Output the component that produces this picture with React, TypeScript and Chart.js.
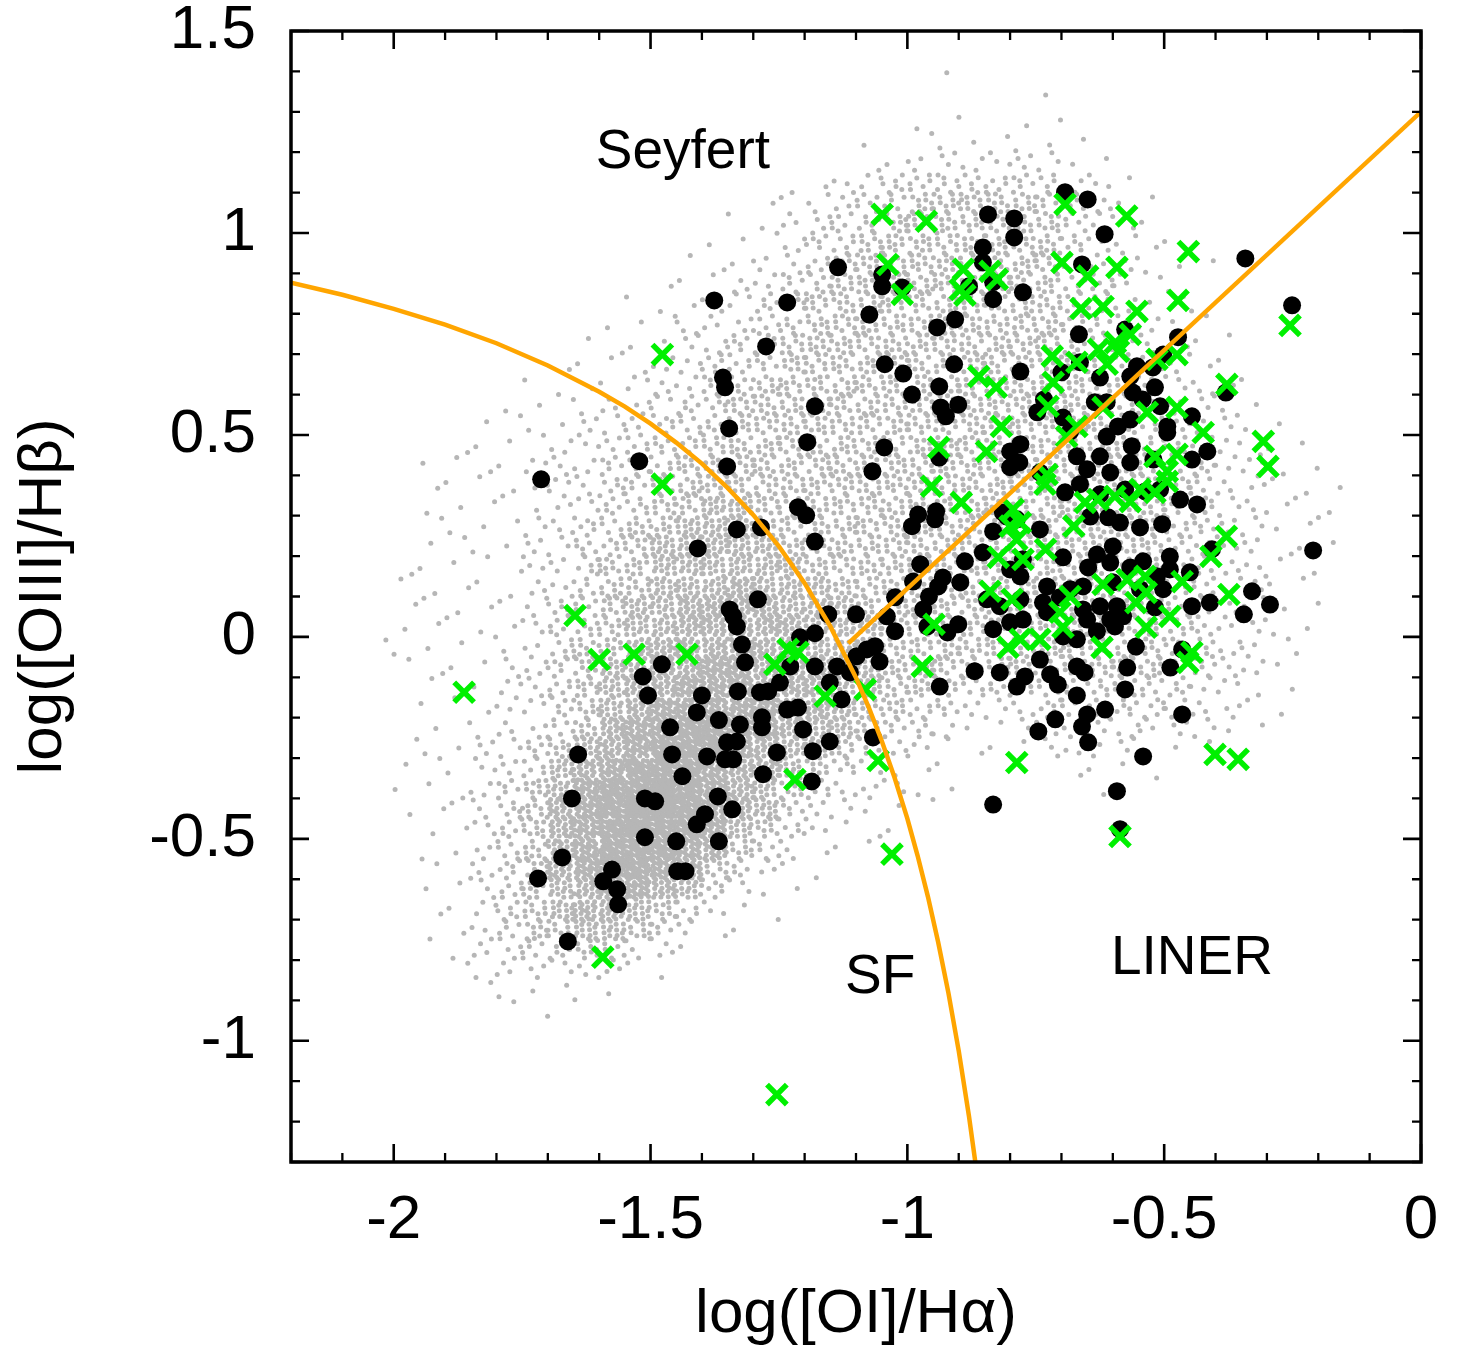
import React, { useEffect, useRef } from "react";
import { Chart, registerables } from "chart.js";

Chart.register(...registerables);

const FONT = "'Liberation Sans', Arial, Helvetica, sans-serif";

// Axes
const X_MIN = -2.2;
const X_MAX = 0;
const Y_MIN = -1.3;
const Y_MAX = 1.5;
const X_TICKS = [-2, -1.5, -1, -0.5, 0];
const X_TICK_LABELS = ["-2", "-1.5", "-1", "-0.5", "0"];
const Y_TICKS = [-1, -0.5, 0, 0.5, 1, 1.5];
const Y_TICK_LABELS = ["-1", "-0.5", "0", "0.5", "1", "1.5"];
const MINOR_STEP = 0.1;
const X_TITLE = "log([OI]/Hα)";
const Y_TITLE = "log([OIII]/Hβ)";

// Region labels
const REGION_LABELS = ["Seyfert", "LINER", "SF"];
const REGION_X = [-1.437, -0.446, -1.053];
const REGION_Y = [1.198, -0.797, -0.844];

// Kewley et al. 2001 maximum-starburst curve (sampled)
const KEW01_X = [-2.2, -2.1, -2.0, -1.9, -1.8, -1.7, -1.6, -1.55, -1.5, -1.45, -1.4, -1.35, -1.3, -1.25, -1.2, -1.15, -1.1, -1.075, -1.05, -1.025, -1.0, -0.98, -0.96, -0.94, -0.92, -0.9, -0.88, -0.865];
const KEW01_Y = [0.877, 0.847, 0.812, 0.773, 0.727, 0.672, 0.607, 0.570, 0.528, 0.481, 0.429, 0.369, 0.302, 0.224, 0.133, 0.026, -0.101, -0.175, -0.257, -0.348, -0.45, -0.542, -0.643, -0.756, -0.882, -1.025, -1.187, -1.325];

// Seyfert / LINER dividing line
const SEYLIN_X = [-1.115, 0];
const SEYLIN_Y = [-0.016, 1.3];

// Black filled circles [log OI/Ha, log OIII/Hb]
const BLACK_POINTS = [
  [-1.713, 0.39], [-1.522, 0.435], [-1.376, 0.833], [-1.359, 0.642], [-1.355, 0.618], [-1.347, 0.516], [-1.351, 0.422],
  [-0.843, 1.046], [-0.792, 1.036], [-0.792, 0.989], [-0.853, 0.964], [-0.853, 0.927], [-1.135, 0.915], [-1.049, 0.897], [-1.049, 0.868], [-1.01, 0.865], [-0.88, 0.868], [-0.833, 0.878], [-0.833, 0.836], [-0.775, 0.853], [-1.234, 0.828], [-1.074, 0.798], [-0.907, 0.786], [-0.942, 0.766], [-1.275, 0.719], [-1.044, 0.675], [-1.008, 0.652], [-0.909, 0.675], [-0.78, 0.657], [-0.991, 0.6], [-0.938, 0.62], [-0.901, 0.575], [-0.935, 0.568], [-0.925, 0.546], [-1.18, 0.571], [-1.195, 0.482], [-1.045, 0.469], [-1.068, 0.41], [-0.938, 0.444], [-0.8, 0.459], [-0.78, 0.477], [-0.782, 0.432], [-0.8, 0.42],
  [-0.693, 1.101], [-0.649, 1.083], [-0.616, 0.997], [-0.66, 0.922], [-0.342, 0.937], [-0.251, 0.821], [-0.666, 0.749], [-0.576, 0.761], [-0.473, 0.742], [-0.7, 0.655], [-0.625, 0.642], [-0.566, 0.645], [-0.553, 0.67], [-0.522, 0.667], [-0.502, 0.699], [-0.664, 0.68], [-0.38, 0.605], [-0.734, 0.588], [-0.747, 0.556], [-0.697, 0.543], [-0.683, 0.509], [-0.635, 0.581], [-0.612, 0.581], [-0.561, 0.605], [-0.518, 0.618], [-0.542, 0.588], [-0.508, 0.571], [-0.446, 0.546], [-0.59, 0.521], [-0.566, 0.538], [-0.494, 0.521], [-0.612, 0.496], [-0.563, 0.472], [-0.494, 0.506], [-0.416, 0.459], [-0.446, 0.439], [-0.67, 0.447], [-0.625, 0.447], [-0.566, 0.432], [-0.521, 0.439], [-0.65, 0.415], [-0.605, 0.407], [-0.742, 0.407],
  [-1.408, 0.219], [-1.346, 0.068], [-1.478, -0.068], [-1.515, -0.098], [-1.505, -0.145], [-1.4, -0.145], [-1.41, -0.187], [-1.367, -0.206], [-1.462, -0.224], [-1.641, -0.291], [-1.458, -0.291], [-1.39, -0.296], [-1.438, -0.345], [-1.351, -0.261], [-1.355, -0.303],
  [-1.213, 0.321], [-1.197, 0.301], [-1.332, 0.266], [-1.285, 0.271], [-1.18, 0.236], [-0.979, 0.303], [-0.944, 0.311], [-0.946, 0.291], [-0.991, 0.274], [-0.975, 0.18], [-0.989, 0.137], [-0.931, 0.147], [-0.94, 0.125], [-0.897, 0.135], [-0.888, 0.187], [-0.853, 0.209], [-0.833, 0.261], [-0.806, 0.298], [-0.958, 0.1], [-0.969, 0.068], [-0.961, 0.026], [-0.922, 0.011], [-0.901, 0.031], [-1.024, 0.098], [-1.04, 0.051], [-1.024, 0.014], [-1.1, 0.056], [-1.154, 0.056], [-1.291, 0.093], [-1.339, 0.051], [-1.332, 0.026], [-1.322, -0.019], [-1.316, -0.063], [-1.33, -0.135], [-1.287, -0.137], [-1.271, -0.135], [-1.248, -0.113], [-1.209, -0.001], [-1.18, 0.009], [-1.18, -0.073], [-1.228, -0.073], [-1.137, -0.073], [-1.151, -0.113], [-1.128, -0.155], [-1.112, -0.088], [-1.099, -0.048], [-1.079, -0.031], [-1.063, -0.023], [-1.054, -0.061], [-1.234, -0.18], [-1.213, -0.175], [-1.203, -0.229], [-1.151, -0.259], [-1.184, -0.283], [-1.254, -0.286], [-1.326, -0.217], [-1.283, -0.199], [-1.283, -0.224], [-1.332, -0.259], [-1.339, -0.303], [-1.281, -0.34], [-1.186, -0.358], [-1.067, -0.249], [-0.937, -0.123], [-0.869, -0.085], [-0.82, -0.088], [-0.787, -0.123], [-0.771, -0.098], [-0.833, 0.019], [-0.8, 0.036], [-0.845, 0.093], [-0.78, 0.093], [-0.82, 0.076], [-0.775, 0.043], [-0.8, 0.167], [-0.78, 0.15], [-0.775, 0.192], [-0.814, 0.308], [-0.787, 0.291],
  [-0.436, 0.328], [-0.21, 0.214], [-0.407, 0.217], [-0.329, 0.113], [-0.294, 0.08], [-0.345, 0.056], [-0.411, 0.085], [-0.446, 0.076], [-0.465, -0.031], [-0.488, -0.076], [-0.555, -0.024], [-0.572, -0.076], [-0.576, -0.13], [-0.615, -0.18], [-0.65, -0.192], [-0.66, -0.222], [-0.648, -0.261], [-0.712, -0.204], [-0.745, -0.234], [-0.67, -0.145], [-0.707, -0.118], [-0.722, -0.093], [-0.742, -0.056], [-0.655, -0.088], [-0.67, -0.073], [-0.67, -0.006], [-0.697, 0.001], [-0.728, 0.061], [-0.736, 0.085], [-0.728, 0.125], [-0.697, 0.197], [-0.742, 0.266], [-0.693, 0.358], [-0.664, 0.378], [-0.508, 0.365], [-0.644, 0.298], [-0.609, 0.296], [-0.586, 0.283], [-0.547, 0.271], [-0.504, 0.279], [-0.6, 0.224], [-0.631, 0.204], [-0.648, 0.172], [-0.605, 0.184], [-0.566, 0.172], [-0.541, 0.187], [-0.489, 0.199], [-0.489, 0.167], [-0.45, 0.16], [-0.514, 0.15], [-0.502, 0.118], [-0.547, 0.118], [-0.6, 0.135], [-0.658, 0.125], [-0.683, 0.118], [-0.703, 0.098], [-0.658, 0.068], [-0.625, 0.076], [-0.592, 0.076], [-0.58, 0.051], [-0.605, 0.043], [-0.65, 0.043], [-0.631, 0.014], [-0.518, 0.073], [-0.596, 0.026], [-0.541, -0.296], [-0.465, -0.192], [-0.625, 0.353], [-0.576, 0.365], [-0.537, 0.36], [-0.469, 0.34],
  [-1.653, -0.4], [-1.511, -0.4], [-1.491, -0.407], [-1.369, -0.395], [-1.394, -0.439], [-1.41, -0.464], [-1.341, -0.427], [-1.511, -0.496], [-1.45, -0.506], [-1.367, -0.506], [-1.672, -0.546], [-1.719, -0.598], [-1.575, -0.576], [-1.592, -0.605], [-1.565, -0.625], [-1.563, -0.662], [-1.448, -0.58], [-1.432, -0.58], [-1.661, -0.754],
  [-0.833, -0.415], [-0.592, -0.382], [-0.586, -0.476],
];

// Green crosses
const GREEN_POINTS = [
  [-1.863, -0.137], [-1.647, 0.053], [-1.6, -0.056], [-1.532, -0.043], [-1.429, -0.043], [-1.477, 0.699], [-1.477, 0.378], [-1.049, 1.046], [-0.963, 1.029], [-1.038, 0.922], [-1.01, 0.848], [-0.891, 0.91], [-0.897, 0.86], [-0.888, 0.846], [-0.839, 0.905], [-0.825, 0.885], [-0.861, 0.645], [-0.827, 0.618], [-0.817, 0.521], [-0.846, 0.459], [-0.939, 0.469], [-0.953, 0.373],
  [-0.693, 1.071], [-0.573, 1.042], [-0.453, 0.954], [-0.699, 0.927], [-0.649, 0.893], [-0.592, 0.915], [-0.473, 0.833], [-0.662, 0.813], [-0.619, 0.818], [-0.553, 0.806], [-0.255, 0.771], [-0.566, 0.749], [-0.595, 0.729], [-0.628, 0.712], [-0.589, 0.707], [-0.611, 0.675], [-0.718, 0.695], [-0.67, 0.68], [-0.514, 0.687], [-0.475, 0.699], [-0.716, 0.63], [-0.378, 0.625], [-0.726, 0.571], [-0.619, 0.568], [-0.533, 0.556], [-0.475, 0.568], [-0.67, 0.521], [-0.69, 0.496], [-0.424, 0.506], [-0.307, 0.484], [-0.298, 0.422], [-0.518, 0.447], [-0.475, 0.452], [-0.494, 0.41], [-0.728, 0.402],
  [-0.895, 0.333], [-0.794, 0.316], [-0.8, 0.274], [-0.78, 0.283], [-0.787, 0.241], [-0.775, 0.192], [-0.823, 0.197], [-0.839, 0.113], [-0.796, 0.093], [-0.948, 0.031], [-0.971, -0.073], [-0.804, -0.026], [-0.78, -0.006], [-1.232, -0.031], [-1.213, -0.038], [-1.258, -0.068], [-1.16, -0.147], [-1.082, -0.13], [-1.057, -0.306], [-0.787, -0.311], [-1.219, -0.353],
  [-0.732, 0.378], [-0.654, 0.333], [-0.629, 0.34], [-0.596, 0.348], [-0.566, 0.335], [-0.547, 0.365], [-0.518, 0.358], [-0.494, 0.385], [-0.676, 0.274], [-0.731, 0.217], [-0.379, 0.249], [-0.409, 0.199], [-0.465, 0.137], [-0.537, 0.15], [-0.572, 0.142], [-0.619, 0.13], [-0.683, 0.1], [-0.535, 0.11], [-0.555, 0.085], [-0.374, 0.105], [-0.703, 0.061], [-0.697, 0.024], [-0.742, -0.006], [-0.535, 0.024], [-0.489, 0.051], [-0.621, -0.026], [-0.446, -0.038], [-0.454, -0.063], [-0.401, -0.291], [-0.356, -0.303],
  [-1.593, -0.793], [-1.03, -0.538], [-1.254, -1.133], [-0.586, -0.494],
];

// Background galaxy sample: density read per 0.05 x 0.05 cell.
// Each row: [first column index, density digits 0-9], rows from y=1.45 downward, columns from x=-2.2.
const GRAY_CELL = 0.05;
const GRAY_X0 = -2.2;
const GRAY_Y_TOP = 1.45;
const GRAY_LEVEL_COUNTS = [0, 1, 3, 6, 10, 16, 23, 32, 42, 54];
const GRAY_ROWS: [number, string][] = [
  [0, ""],
  [25, "1"],
  [29, "1"],
  [24, "101011"],
  [22, "101111111"],
  [22, "1122222211"],
  [19, "11223333333221"],
  [18, "1122334444433211"],
  [17, "11223344444443211"],
  [16, "1112334444444432211"],
  [15, "111223444444444322111"],
  [14, "111223344444444433211"],
  [13, "11122334444444444332111"],
  [12, "111222334444444444332211"],
  [11, "11112233444444444443322111"],
  [10, "111122333444444444444332211"],
  [9, "11112223344444444444443332211"],
  [8, "111122233444444444444444332211"],
  [7, "11112223334444444444444444332211"],
  [6, "1111222333444444444444444443322111"],
  [5, "11112223334444444444444444444332211"],
  [5, "111122233444444444444444444443322111"],
  [5, "111112233445544444444444444443322111"],
  [5, "111122334455544444444444444443322111"],
  [5, "111122334555554444444444444443322111"],
  [4, "111112234455555544444444444444332211"],
  [4, "111112234455565554444444444444332211"],
  [4, "111112334556666555444444444444332211"],
  [4, "111112334556666655544444444444332211"],
  [3, "1111112344566666655544444444444332211"],
  [4, "11112234556677666554444444444433221"],
  [5, "1112234566777666554433333333332211"],
  [5, "1112234567777766544332223333322211"],
  [5, "111223467788776554332112222222211"],
  [4, "111223456788876554322111122221111"],
  [4, "111223567888766543211100001111"],
  [4, "1112345788987654322211000001"],
  [4, "111234678998765322111"],
  [5, "1123467898875432111"],
  [5, "112346788876432111"],
  [5, "1123467887643211"],
  [5, "112345677653211"],
  [5, "11234566543211"],
  [5, "1123445543211"],
  [6, "1223343221"],
  [6, "112222211"],
  [7, "111111"],
  [8, "11"],
];

const GRAY_COLOR = "#b6b6b6";
const BLACK_COLOR = "#000000";
const GREEN_COLOR = "#00f000";
const ORANGE_COLOR = "#ffa500";

function frac(v: number) {
  return v - Math.floor(v);
}

function buildGrayPoints() {
  const pts: { x: number; y: number }[] = [];
  GRAY_ROWS.forEach(([c0, digits], r) => {
    const yTop = GRAY_Y_TOP - GRAY_CELL * r;
    for (let k = 0; k < digits.length; k++) {
      const level = Number(digits[k]);
      const n = GRAY_LEVEL_COUNTS[level] || 0;
      const c = c0 + k;
      const x0 = GRAY_X0 + GRAY_CELL * c;
      const s1 = frac(c * 0.3183 + r * 0.5772);
      const s2 = frac(c * 0.7131 + r * 0.2417);
      for (let i = 0; i < n; i++) {
        const fx = frac(s1 + i * 0.7548776662);
        const fy = frac(s2 + i * 0.569840291);
        pts.push({ x: x0 + GRAY_CELL * fx, y: yTop - GRAY_CELL * fy });
      }
    }
  });
  return pts;
}

const framePlugin = {
  id: "gnuplotFrame",
  afterDatasetsDraw(chart: any) {
    const { ctx, chartArea: a } = chart;
    const xs = chart.scales.x;
    const ys = chart.scales.y;
    ctx.save();
    ctx.strokeStyle = "#000";
    ctx.lineCap = "butt";
    const MAJOR = 18;
    const MINOR = 9;
    const isMajor = (v: number, list: number[]) => list.some((t) => Math.abs(t - v) < 1e-6);
    const nx = Math.round((X_MAX - X_MIN) / MINOR_STEP);
    for (let i = 0; i <= nx; i++) {
      const v = X_MIN + i * MINOR_STEP;
      const px = xs.getPixelForValue(v);
      const major = isMajor(v, X_TICKS);
      const len = major ? MAJOR : MINOR;
      ctx.lineWidth = major ? 2.6 : 2.3;
      ctx.beginPath();
      ctx.moveTo(px, a.bottom);
      ctx.lineTo(px, a.bottom - len);
      ctx.moveTo(px, a.top);
      ctx.lineTo(px, a.top + len);
      ctx.stroke();
    }
    const ny = Math.round((Y_MAX - Y_MIN) / MINOR_STEP);
    for (let i = 0; i <= ny; i++) {
      const v = Y_MIN + i * MINOR_STEP;
      const py = ys.getPixelForValue(v);
      const major = isMajor(v, Y_TICKS);
      const len = major ? MAJOR : MINOR;
      ctx.lineWidth = major ? 2.6 : 2.3;
      ctx.beginPath();
      ctx.moveTo(a.left, py);
      ctx.lineTo(a.left + len, py);
      ctx.moveTo(a.right, py);
      ctx.lineTo(a.right - len, py);
      ctx.stroke();
    }
    ctx.lineWidth = 3.5;
    ctx.strokeRect(a.left, a.top, a.right - a.left, a.bottom - a.top);

    ctx.fillStyle = "#000";
    ctx.font = `55px ${FONT}`;
    ctx.textAlign = "center";
    ctx.textBaseline = "middle";
    REGION_LABELS.forEach((label, i) => {
      ctx.fillText(label, xs.getPixelForValue(REGION_X[i]), ys.getPixelForValue(REGION_Y[i]));
    });
    ctx.restore();
  },
};

export default function App() {
  const canvasRef = useRef<HTMLCanvasElement | null>(null);

  useEffect(() => {
    const canvas = canvasRef.current;
    if (!canvas) return;
    const gray = buildGrayPoints();
    const black = BLACK_POINTS.map(([x, y]) => ({ x, y }));
    const green = GREEN_POINTS.map(([x, y]) => ({ x, y }));
    const kew = KEW01_X.map((x, i) => ({ x, y: KEW01_Y[i] }));
    const seylin = SEYLIN_X.map((x, i) => ({ x, y: SEYLIN_Y[i] }));

    const chart = new Chart(canvas, {
      type: "scatter",
      data: {
        datasets: [
          {
            label: "Kewley01",
            data: kew,
            showLine: true,
            borderColor: ORANGE_COLOR,
            borderWidth: 4.5,
            pointRadius: 0,
            fill: false,
            order: 0,
          } as any,
          {
            label: "Seyfert-LINER",
            data: seylin,
            showLine: true,
            borderColor: ORANGE_COLOR,
            borderWidth: 4.5,
            pointRadius: 0,
            fill: false,
            order: 0,
          } as any,
          {
            label: "green",
            data: green,
            pointStyle: "crossRot",
            pointRadius: 14,
            borderColor: GREEN_COLOR,
            backgroundColor: GREEN_COLOR,
            borderWidth: 5.5,
            order: 1,
          } as any,
          {
            label: "black",
            data: black,
            pointRadius: 9,
            backgroundColor: BLACK_COLOR,
            borderWidth: 0,
            order: 2,
          } as any,
          {
            label: "gray",
            data: gray,
            pointRadius: 2.5,
            backgroundColor: GRAY_COLOR,
            borderWidth: 0,
            order: 3,
          } as any,
        ],
      },
      options: {
        responsive: false,
        animation: false,
        events: [],
        layout: { padding: { top: 31, right: 39, left: 0, bottom: 0 } },
        plugins: {
          legend: { display: false },
          tooltip: { enabled: false },
        },
        scales: {
          x: {
            type: "linear",
            min: X_MIN,
            max: X_MAX,
            grid: { display: false, drawTicks: false },
            border: { display: false },
            afterBuildTicks: (scale: any) => {
              scale.ticks = X_TICKS.map((value) => ({ value }));
            },
            afterFit: (scale: any) => {
              scale.height = 196;
              scale.paddingLeft = 0;
              scale.paddingRight = 0;
            },
            ticks: {
              autoSkip: false,
              maxRotation: 0,
              padding: 22,
              color: "#000",
              font: { family: FONT, size: 62, lineHeight: 1.2 },
              callback: (value: any) => {
                const i = X_TICKS.findIndex((t) => Math.abs(t - Number(value)) < 1e-9);
                return i >= 0 ? X_TICK_LABELS[i] : "";
              },
            },
            title: {
              display: true,
              text: X_TITLE,
              color: "#000",
              font: { family: FONT, size: 62, lineHeight: 1.2 },
              padding: { top: 0, bottom: 6 },
            },
          },
          y: {
            type: "linear",
            min: Y_MIN,
            max: Y_MAX,
            grid: { display: false, drawTicks: false },
            border: { display: false },
            afterBuildTicks: (scale: any) => {
              scale.ticks = Y_TICKS.map((value) => ({ value }));
            },
            afterFit: (scale: any) => {
              scale.width = 291;
              scale.paddingTop = 0;
              scale.paddingBottom = 0;
            },
            ticks: {
              autoSkip: false,
              padding: 35,
              color: "#000",
              font: { family: FONT, size: 62, lineHeight: 1.2 },
              callback: (value: any) => {
                const i = Y_TICKS.findIndex((t) => Math.abs(t - Number(value)) < 1e-9);
                return i >= 0 ? Y_TICK_LABELS[i] : "";
              },
            },
            title: {
              display: true,
              text: Y_TITLE,
              color: "#000",
              font: { family: FONT, size: 62, lineHeight: 1.2 },
              padding: { top: 7, bottom: 0 },
            },
          },
        },
      } as any,
      plugins: [framePlugin],
    });

    return () => {
      chart.destroy();
    };
  }, []);

  return (
    <div
      style={{
        position: "absolute",
        left: 0,
        top: 0,
        width: 1460,
        height: 1358,
        background: "#ffffff",
      }}
    >
      <canvas ref={canvasRef} width={1460} height={1358} style={{ width: 1460, height: 1358, display: "block" }} />
    </div>
  );
}
